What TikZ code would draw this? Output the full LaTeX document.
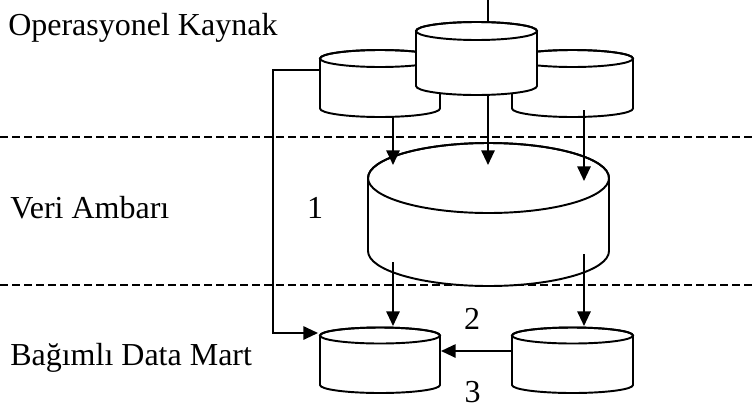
\documentclass[tikz,border=0pt]{standalone}
\usepackage{fontspec}
\setmainfont{Liberation Serif}
\usetikzlibrary{arrows.meta}

% drum-shaped data store: name, centre x, top-ellipse y, bottom-ellipse y (downward), x radius, y radius
\newcommand\drumshape[6]{%
  \path[drum] ({#2-#5},{405-#3}) -- ({#2-#5},{405-#4})
    arc[start angle=180,end angle=360,x radius=#5,y radius=#6]
    -- ({#2+#5},{405-#3})
    arc[start angle=0,end angle=180,x radius=#5,y radius=#6] -- cycle;
  \draw[drumline] (#2,{405-#3}) ellipse[x radius=#5,y radius=#6];
  \coordinate (#1) at (#2,{405-(#3+#4)/2});
}

\begin{document}
\begin{tikzpicture}[x=0.75pt,y=0.75pt,
  drumline/.style={line width=1.45pt},
  drum/.style={drumline,draw=black,fill=white},
  link/.style={line width=1.45pt},
  arr/.style={link,-{Triangle[length=11pt,width=10pt]}},
  layer/.style={line width=1.4pt,dash pattern=on 6pt off 3pt},
  lbl/.style={font=\fontsize{24}{28}\selectfont,inner sep=0pt,anchor=base west},
  num/.style={font=\fontsize{24}{28}\selectfont,inner sep=0pt,anchor=base}]
\useasboundingbox (0,0) rectangle (755,405);

% layer separators
\draw[layer] (0,268) -- (755,268);
\draw[layer] (0,120) -- (755,120);

% layer names
\node[lbl] (opk) at (8,370) {Operasyonel Kaynak};
\node[lbl] (dwh) at (10,187) {Veri Ambarı};
\node[lbl] (dm)  at (10,40)  {Bağımlı Data Mart};

% operational sources
\drumshape{L1}{380}{58.5}{108.5}{60}{8.5}
\drumshape{R1}{572.5}{58.5}{108.5}{60.5}{8.5}
\drumshape{M1}{476.5}{31}{86}{60.5}{9}

% data warehouse
\drumshape{W}{488.5}{178}{251}{120.5}{35}

% dependent data marts
\drumshape{D1}{380}{335.5}{385}{60}{8}
\drumshape{D2}{572.5}{335.5}{385}{60.5}{8}

% connector end points
\coordinate (feed) at (488,405);
\coordinate (M1n)  at (488,383);
\coordinate (L1s)  at (393,288);
\coordinate (M1s)  at (488,311);
\coordinate (R1s)  at (584,295);
\coordinate (Wi1)  at (393,240);
\coordinate (Wi2)  at (488,240);
\coordinate (Wi3)  at (584,224);
\coordinate (Wo1)  at (393,143);
\coordinate (Wo2)  at (584,151);
\coordinate (D1i)  at (393,79);
\coordinate (D2i)  at (584,79);
\coordinate (D2w)  at (512,54);
\coordinate (D1e)  at (441,54);
\coordinate (L1w)  at (320,335);
\coordinate (D1w)  at (318,72);

% flows
\draw[link] (feed) -- (M1n);
\draw[arr] (L1s) -- (Wi1);
\draw[arr] (M1s) -- (Wi2);
\draw[arr] (R1s) -- (Wi3);
\draw[arr] (Wo1) -- (D1i);
\draw[arr] (Wo2) -- (D2i);
\draw[arr] (D2w) -- (D1e);
\draw[arr] (L1w) -- ++(-47,0) |- (D1w);

% flow numbers
\node[num] (n1) at (315,187) {1};
\node[num] (n2) at (472,76)  {2};
\node[num] (n3) at (472.5,3) {3};
\end{tikzpicture}
\end{document}
